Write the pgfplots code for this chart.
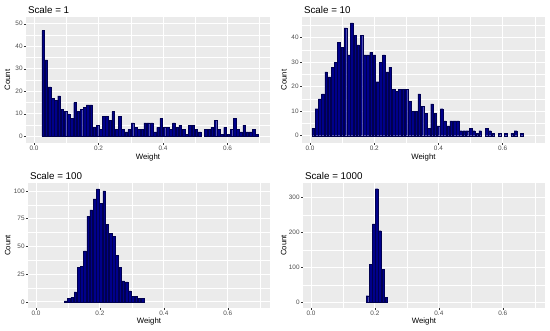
\documentclass[border=0pt]{standalone}
\usepackage{fontspec}
\setmainfont{Liberation Sans}
\usepackage{pgfplots}
\pgfplotsset{compat=1.18}
\definecolor{ggbg}{RGB}{235,235,235}
\definecolor{ggbar}{RGB}{0,0,139}
\definecolor{ggedge}{RGB}{0,0,80}
\definecolor{ggtick}{RGB}{77,77,77}
\definecolor{ggtickmark}{RGB}{51,51,51}
\pgfplotsset{
  ggpanel/.style={
    scale only axis,
    anchor=south west,
    axis background/.style={fill=ggbg},
    axis line style={draw=none},
    xmin=-0.025, xmax=0.732,
    xtick={0,0.2,0.4,0.6},
    xticklabels={0.0,0.2,0.4,0.6},
    minor xtick={0.1,0.3,0.5,0.7},
    grid=both,
    major grid style={white, line width=0.9pt},
    minor grid style={white, line width=0.45pt},
    tick align=outside,
    xtick pos=left, ytick pos=left,
    major tick length=2pt,
    minor tick length=0pt,
    tick style={ggtickmark, line width=0.5pt},
    ticklabel style={font=\fontsize{6.4}{7.5}\selectfont, text=ggtick, inner sep=1.2pt},
    xlabel={Weight}, ylabel={Count},
    label style={font=\fontsize{7.8}{9}\selectfont},
    title style={at={(axis description cs:0,1)}, anchor=base west, yshift=-2.3pt, xshift=-1.5pt, font=\fontsize{9.8}{11}\selectfont},
  },
  ggbars/.style={ybar, bar shift=0pt, bar width=#1, fill=ggbar, draw=ggedge, line width=0.25pt},
}
\begin{document}
\begin{tikzpicture}
\path[use as bounding box] (0,0) rectangle (550pt,330pt);

% Scale = 1
\begin{axis}[ggpanel, at={(26pt,187pt)}, width=244pt, height=126pt,
  title={Scale = 1},
  ymin=-3, ymax=53,
  ytick={0,10,20,30,40,50}, yticklabels={0,10,20,30,40,50},
  minor ytick={5,15,25,35,45},
  xlabel style={at={(axis description cs:0.5,-0.133)}, anchor=base},
  ylabel style={at={(axis description cs:-0.0758,0.5)}, anchor=center},
]
\addplot[ggbars=0.0081] table {
x y
0.0280 47
0.0379 34
0.0478 22
0.0577 17
0.0676 16
0.0775 18
0.0874 12
0.0973 11
0.1072 10
0.1171 8
0.1270 15
0.1369 11
0.1468 12
0.1567 13
0.1666 14
0.1765 14
0.1864 4
0.1963 5
0.2062 3
0.2161 9
0.2260 9
0.2359 7
0.2458 11
0.2557 3
0.2656 9
0.2755 3
0.2854 2
0.2953 3
0.3052 6
0.3151 4
0.3250 3
0.3349 3
0.3448 6
0.3547 6
0.3646 6
0.3745 2
0.3844 4
0.3943 8
0.4042 4
0.4141 4
0.4240 3
0.4339 6
0.4438 4
0.4537 5
0.4636 3
0.4735 1
0.4834 5
0.4933 5
0.5032 3
0.5131 2
0.5329 3
0.5428 3
0.5527 4
0.5626 7
0.5725 3
0.5824 1
0.5923 4
0.6022 1
0.6121 3
0.6220 8
0.6319 3
0.6418 2
0.6517 5
0.6616 2
0.6715 2
0.6814 3
0.6913 1
};
\end{axis}

% Scale = 10
\begin{axis}[ggpanel, at={(302pt,187pt)}, width=243pt, height=126pt,
  title={Scale = 10},
  ymin=-3, ymax=48.4,
  ytick={0,10,20,30,40}, yticklabels={0,10,20,30,40},
  minor ytick={5,15,25,35,45},
  xlabel style={at={(axis description cs:0.5,-0.133)}, anchor=base},
  ylabel style={at={(axis description cs:-0.074,0.5)}, anchor=center},
]
\addplot[ggbars=0.0082] table {
x y
0.01 3
0.02 11
0.03 15
0.04 17
0.05 26
0.06 24
0.07 28
0.08 30
0.09 38
0.10 36
0.11 44
0.12 33
0.13 46
0.14 41
0.15 37
0.16 41
0.17 33
0.18 33
0.19 34
0.20 33
0.21 22
0.22 30
0.23 33
0.24 26
0.25 28
0.26 19
0.27 18
0.28 19
0.29 19
0.30 19
0.31 14
0.32 10
0.33 10
0.34 17
0.35 12
0.36 9
0.37 3
0.38 13
0.39 9
0.40 4
0.41 11
0.42 6
0.43 4
0.44 6
0.45 6
0.46 6
0.47 2
0.48 2
0.49 2
0.50 3
0.51 2
0.52 1
0.53 2
0.55 3
0.56 2
0.57 1
0.59 1
0.61 1
0.63 1
0.64 2
0.66 1
};
\end{axis}

% Scale = 100
\begin{axis}[ggpanel, at={(28pt,22pt)}, width=242pt, height=125pt,
  title={Scale = 100},
  ymin=-5.5, ymax=107.2,
  ytick={0,25,50,75,100}, yticklabels={0,25,50,75,100},
  minor ytick={12.5,37.5,62.5,87.5},
  xlabel style={at={(axis description cs:0.5,-0.125)}, anchor=base},
  ylabel style={at={(axis description cs:-0.0835,0.5)}, anchor=center},
]
\addplot[ggbars=0.0082] table {
x y
0.093 1
0.103 3
0.113 4
0.123 9
0.133 31
0.143 32
0.153 46
0.163 77
0.173 83
0.183 93
0.193 102
0.203 89
0.213 100
0.223 70
0.233 62
0.243 59
0.253 42
0.263 31
0.273 19
0.283 18
0.293 10
0.303 5
0.313 5
0.323 3
0.333 3
};
\end{axis}

% Scale = 1000
\begin{axis}[ggpanel, at={(303pt,22pt)}, width=242pt, height=125pt,
  title={Scale = 1000},
  ymin=-16.25, ymax=341.25,
  ytick={0,100,200,300}, yticklabels={0,100,200,300},
  minor ytick={50,150,250},
  xlabel style={at={(axis description cs:0.5,-0.125)}, anchor=base},
  ylabel style={at={(axis description cs:-0.0798,0.5)}, anchor=center},
]
\addplot[ggbars=0.0080] table {
x y
0.1765 19
0.1862 108
0.1959 224
0.2056 325
0.2153 205
0.2250 95
0.2347 15
};
\end{axis}
\end{tikzpicture}
\end{document}
